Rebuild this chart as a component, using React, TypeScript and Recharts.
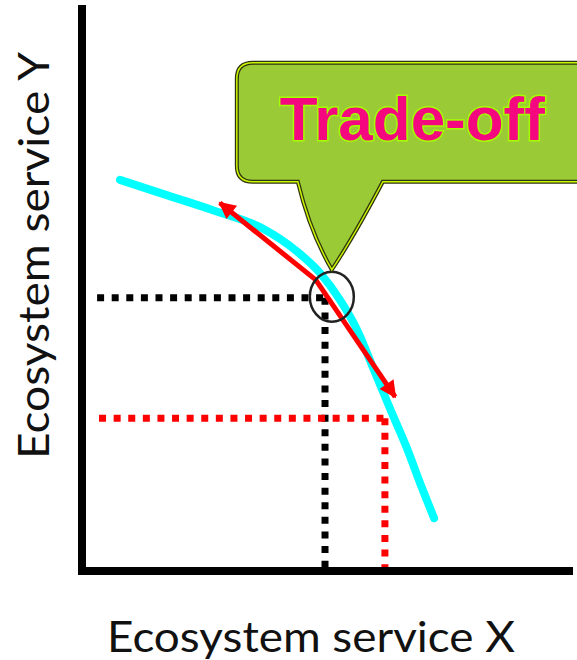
import React from "react";
import {
  LineChart,
  Line,
  XAxis,
  YAxis,
  ReferenceDot,
  Label,
} from "recharts";

// frontier curve (cyan)
const curveX = [7.8, 16.6, 26.9, 37.2, 44.1, 48.9, 53.0, 56.5, 59.8, 63.2, 66.7, 69.8, 72.3];
const curveY = [69.6, 67.1, 64.2, 60.9, 56.9, 53.0, 48.2, 42.9, 36.1, 29.0, 21.9, 14.8, 9.4];

// arrows: start point, then the two tips
const arrowStart = { x: 48.0, y: 51.8 };
const arrowTipUp = { x: 28.3, y: 65.5 };
const arrowTipDown = { x: 64.3, y: 31.0 };

// guide lines
const blackPoint = { x: 49.9, y: 48.6 };
const redPoint = { x: 62.2, y: 27.2 };
const guideStartX = [3.1, 3.5];

const tradePoint = { x: 51.3, y: 48.8 };
const calloutText = "Trade-off";
const xLabel = "Ecosystem service X";
const yLabel = "Ecosystem service Y";

const curveData = curveX.map((x, i) => ({ x, y: curveY[i] }));
const arrowUpData = [arrowStart, arrowTipUp];
const arrowDownData = [arrowStart, arrowTipDown];
const blackH = [{ x: guideStartX[0], y: blackPoint.y }, blackPoint];
const blackV = [blackPoint, { x: blackPoint.x, y: 0 }];
const redH = [{ x: guideStartX[1], y: redPoint.y }, redPoint];
const redV = [redPoint, { x: redPoint.x, y: 0 }];

const labelFont = "Lato, 'DejaVu Sans', sans-serif";

function Ellipse(props: any) {
  const { cx, cy } = props;
  return <ellipse cx={cx} cy={cy} rx={22} ry={25} fill="none" stroke="#222" strokeWidth={2.5} />;
}

function Callout(props: any) {
  const { cx, cy } = props;
  const L = cx - 95;
  const R = cx + 300;
  const T = cy - 234;
  const B = cy - 115;
  const r = 16;
  const d = [
    `M${L + r},${T}`,
    `H${R}`,
    `V${B}`,
    `H${cx + 51}`,
    `Q${cx + 22},${cy - 60} ${cx},${cy - 27}`,
    `Q${cx - 22},${cy - 65} ${cx - 34},${B}`,
    `H${L + r}`,
    `Q${L},${B} ${L},${B - r}`,
    `V${T + r}`,
    `Q${L},${T} ${L + r},${T}`,
    "Z",
  ].join(" ");
  return (
    <g>
      <path d={d} fill="#9aca35" stroke="#2f3310" strokeWidth={4} />
      <path d={d} fill="none" stroke="#c8f500" strokeWidth={1.5} />
      <text
        x={cx - 52}
        y={cy - 157}
        fontFamily="'Liberation Sans', Arial, sans-serif"
        fontWeight="bold"
        fontSize={62}
        fill="#f5087f"
        stroke="#a6ff00"
        strokeWidth={3}
        paintOrder="stroke"
        textLength={265}
        lengthAdjust="spacingAndGlyphs"
      >
        {calloutText}
      </text>
    </g>
  );
}

export default function App() {
  return (
    <div style={{ position: "absolute", left: 0, top: 0, width: 577, height: 660, background: "#fff" }}>
      <svg width={0} height={0} style={{ position: "absolute" }}>
        <defs>
          <marker
            id="redArrow"
            viewBox="0 0 10 10"
            refX={9}
            refY={5}
            markerWidth={20}
            markerHeight={17}
            markerUnits="userSpaceOnUse"
            orient="auto"
          >
            <path d="M0,0 L10,5 L0,10 z" fill="#ff0000" />
          </marker>
        </defs>
      </svg>
      <LineChart width={577} height={660} margin={{ top: 9, right: 8, bottom: 0, left: 0 }}>
        <XAxis
          dataKey="x"
          type="number"
          domain={[0, 100]}
          allowDataOverflow
          height={89}
          tick={false}
          tickLine={false}
          axisLine={{ stroke: "#000", strokeWidth: 8, strokeLinecap: "square" }}
        >
          <Label
            content={(p: any) => {
              const vb = p.viewBox;
              return (
                <text
                  x={vb.x + vb.width / 2 - 14.5}
                  y={vb.y + 81}
                  textAnchor="middle"
                  fontFamily={labelFont}
                  fontSize={42}
                  fill="#111"
                  textLength={408}
                  lengthAdjust="spacingAndGlyphs"
                >
                  {xLabel}
                </text>
              );
            }}
          />
        </XAxis>
        <YAxis
          dataKey="y"
          type="number"
          domain={[0, 100]}
          allowDataOverflow
          width={82}
          tick={false}
          tickLine={false}
          axisLine={{ stroke: "#000", strokeWidth: 8, strokeLinecap: "square" }}
        >
          <Label
            content={(p: any) => {
              const vb = p.viewBox;
              const x0 = vb.x + 49;
              const y0 = vb.y + vb.height / 2 - 34.5;
              return (
                <text
                  x={x0}
                  y={y0}
                  transform={`rotate(-90, ${x0}, ${y0})`}
                  textAnchor="middle"
                  fontFamily={labelFont}
                  fontSize={42}
                  fill="#111"
                  textLength={407}
                  lengthAdjust="spacingAndGlyphs"
                >
                  {yLabel}
                </text>
              );
            }}
          />
        </YAxis>
        <Line data={blackH} dataKey="y" stroke="#000" strokeWidth={7} strokeDasharray="7 7.6" dot={false} activeDot={false} isAnimationActive={false} />
        <Line data={blackV} dataKey="y" stroke="#000" strokeWidth={7} strokeDasharray="7 7.6" dot={false} activeDot={false} isAnimationActive={false} />
        <Line data={redH} dataKey="y" stroke="#ff0000" strokeWidth={7} strokeDasharray="7 7.6" dot={false} activeDot={false} isAnimationActive={false} />
        <Line data={redV} dataKey="y" stroke="#ff0000" strokeWidth={7} strokeDasharray="7 7.6" dot={false} activeDot={false} isAnimationActive={false} />
        <Line data={curveData} dataKey="y" type="monotone" stroke="#00ffff" strokeWidth={8} strokeLinecap="round" dot={false} activeDot={false} isAnimationActive={false} />
        <Line data={arrowUpData} dataKey="y" stroke="#ff0000" strokeWidth={5} markerEnd="url(#redArrow)" dot={false} activeDot={false} isAnimationActive={false} />
        <Line data={arrowDownData} dataKey="y" stroke="#ff0000" strokeWidth={5} markerEnd="url(#redArrow)" dot={false} activeDot={false} isAnimationActive={false} />
        <ReferenceDot x={tradePoint.x} y={tradePoint.y} r={22} shape={Ellipse} />
        <ReferenceDot x={tradePoint.x} y={tradePoint.y} r={22} shape={Callout} />
      </LineChart>
    </div>
  );
}
